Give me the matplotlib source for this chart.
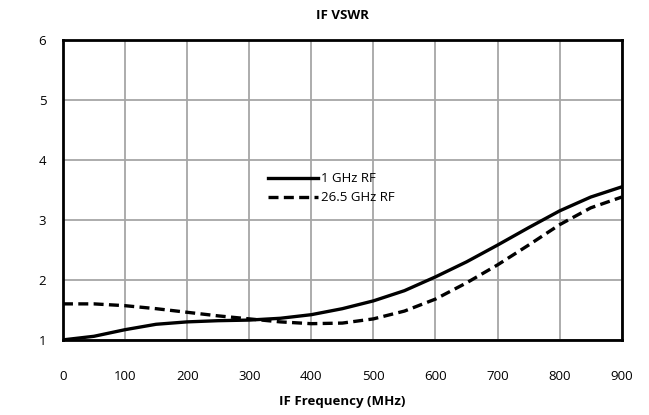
import matplotlib.pyplot as plt
import numpy as np

# IF VSWR vs IF frequency
freq_mhz = [0, 50, 100, 150, 200, 250, 300, 350, 400, 450, 500, 550, 600, 650, 700, 750, 800, 850, 900]
vswr_1ghz = [1.00, 1.06, 1.17, 1.26, 1.30, 1.32, 1.33, 1.36, 1.42, 1.52, 1.65, 1.82, 2.05, 2.30, 2.58, 2.87, 3.15, 3.38, 3.55]
vswr_26ghz = [1.60, 1.60, 1.57, 1.52, 1.46, 1.40, 1.35, 1.30, 1.27, 1.28, 1.35, 1.48, 1.68, 1.95, 2.25, 2.58, 2.92, 3.20, 3.38]

plt.rcParams['font.family'] = ['Open Sans', 'DejaVu Sans']

fig = plt.figure(figsize=(6.49, 4.15), dpi=100)
ax = fig.add_axes([0.097, 0.181, 0.861, 0.723])

ax.plot(freq_mhz, vswr_1ghz, color='black', lw=2.4, label='1 GHz RF')
ax.plot(freq_mhz, vswr_26ghz, color='black', lw=2.4, ls=(0, (3, 1.6)), label='26.5 GHz RF')

ax.set_xlim(0, 900)
ax.set_ylim(1, 6)
ax.set_xticks(range(0, 901, 100))
ax.set_yticks(range(1, 7))
ax.grid(True, color='#a6a6a6', lw=1.3)
ax.tick_params(length=0, labelsize=9.5)
ax.tick_params(axis='x', pad=22)
ax.tick_params(axis='y', pad=12)
for s in ax.spines.values():
    s.set_linewidth(2)
    s.set_color('black')

ax.set_title('IF VSWR', fontsize=9.5, fontweight='bold', pad=15)
ax.set_xlabel('IF Frequency (MHz)', fontsize=9.5, fontweight='bold', labelpad=8)

ax.legend(loc='center', bbox_to_anchor=(0.48, 0.505), frameon=False, fontsize=9.5,
          handlelength=3.8, handletextpad=0.2, labelspacing=0.45)

fig.savefig('out.png', dpi=100)
